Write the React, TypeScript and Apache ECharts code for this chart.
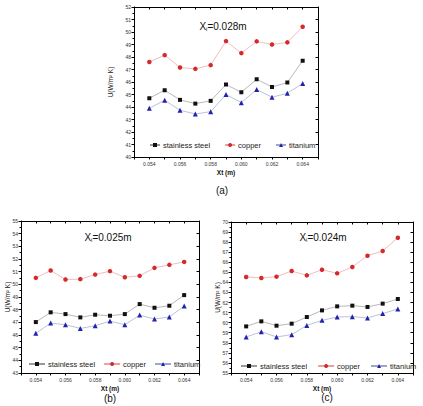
import React, { useEffect, useRef } from "react";
import * as echarts from "echarts";

// Tube position Xt (m) shared by all three panels
const xt = [0.054, 0.055, 0.056, 0.057, 0.058, 0.059, 0.06, 0.061, 0.062, 0.063, 0.064];

// Panel (a): Xi = 0.028 m
const steelA = [44.7, 45.34, 44.57, 44.27, 44.49, 45.8, 45.18, 46.22, 45.6, 45.96, 47.7];
const copperA = [47.6, 48.15, 47.16, 47.05, 47.35, 49.27, 48.31, 49.25, 49.0, 49.17, 50.42];
const titaniumA = [43.9, 44.54, 43.74, 43.44, 43.63, 45.0, 44.35, 45.4, 44.78, 45.1, 45.88];

// Panel (b): Xi = 0.025 m
const steelB = [47.02, 47.79, 47.65, 47.39, 47.6, 47.52, 47.65, 48.44, 48.15, 48.31, 49.15];
const copperB = [50.51, 51.09, 50.38, 50.41, 50.77, 51.04, 50.56, 50.67, 51.3, 51.54, 51.77];
const titaniumB = [46.13, 46.94, 46.81, 46.52, 46.73, 47.1, 46.81, 47.57, 47.26, 47.42, 48.28];

// Panel (c): Xi = 0.024 m
const steelC = [59.63, 60.13, 59.7, 59.9, 60.56, 61.22, 61.62, 61.69, 61.56, 61.89, 62.35];
const copperC = [64.54, 64.44, 64.57, 65.13, 64.7, 65.26, 64.9, 65.53, 66.65, 67.12, 68.44];
const titaniumC = [58.58, 59.1, 58.58, 58.81, 59.73, 60.23, 60.56, 60.6, 60.47, 60.9, 61.36];

const materials = ["stainless steel", "copper", "titanium"];
const panelLabels = ["(a)", "(b)", "(c)"];
const xiValues = ["0.028m", "0.025m", "0.024m"];
const yRanges = [
  [40, 52],
  [43, 55],
  [55, 70],
];

const seriesStyle = [
  { symbol: "rect", size: 4, color: "#111111", line: "#9a9a9a" },
  { symbol: "circle", size: 4.5, color: "#d42a2a", line: "#eaa0a0" },
  { symbol: "triangle", size: 5, color: "#2222b0", line: "#9da6c8" },
];

const panels = [
  { left: 134, top: 7, width: 184, height: 150, steel: steelA, copper: copperA, titanium: titaniumA },
  { left: 21, top: 221, width: 178, height: 152, steel: steelB, copper: copperB, titanium: titaniumB },
  { left: 231, top: 222, width: 182, height: 151, steel: steelC, copper: copperC, titanium: titaniumC },
];

const legendPos = [
  { left: 149, top: 141, gap: 14, w: 10 },
  { left: 28, top: 360, gap: 8, w: 16 },
  { left: 240, top: 362, gap: 10, w: 16 },
];
const titlePos = [
  { x: 223, y: 20 },
  { x: 108, y: 231 },
  { x: 323, y: 231 },
];
const panelLabelPos = [
  { x: 222, y: 190 },
  { x: 110, y: 398 },
  { x: 327, y: 397 },
];
const yNamePos = [110, 7, 217];

const font = "Liberation Sans, Arial, sans-serif";
const tickFont = { fontSize: 5, color: "#333", fontFamily: font };

export default function App() {
  const ref = useRef<HTMLDivElement>(null);

  useEffect(() => {
    if (!ref.current) return;
    const chart = echarts.init(ref.current, null, { renderer: "svg" });

    const grid: any[] = [];
    const xAxis: any[] = [];
    const yAxis: any[] = [];
    const series: any[] = [];
    const legend: any[] = [];
    const graphic: any[] = [];

    panels.forEach((p, i) => {
      grid.push({ left: p.left, top: p.top, width: p.width, height: p.height, containLabel: false });
      const xBase = {
        type: "value",
        gridIndex: i,
        min: 0.053,
        max: 0.065,
        interval: 0.001,
        splitLine: { show: false },
        axisLine: { show: true, onZero: false, lineStyle: { color: "#000", width: 1 } },
      };
      // bottom axis, labelled at every other tick
      xAxis.push({
        ...xBase,
        position: "bottom",
        axisTick: { show: true, inside: false, length: 2.5, lineStyle: { color: "#000" } },
        axisLabel: {
          ...tickFont,
          margin: 4,
          formatter: (v: number) => {
            const k = Math.round(v * 1000);
            return k % 2 === 0 && k >= 54 && k <= 64 ? (k / 1000).toFixed(3) : "";
          },
        },
        name: "Xt (m)",
        nameLocation: "middle",
        nameGap: 12,
        nameTextStyle: { fontSize: 6.5, fontWeight: "bold", color: "#111", fontFamily: font },
      });
      // top frame axis
      xAxis.push({
        ...xBase,
        position: "top",
        axisTick: { show: true, inside: true, length: 2.5, lineStyle: { color: "#000" } },
        axisLabel: { show: false },
      });
      const yBase = {
        type: "value",
        gridIndex: i,
        min: yRanges[i][0],
        max: yRanges[i][1],
        interval: 1,
        splitLine: { show: false },
        axisLine: { show: true, onZero: false, lineStyle: { color: "#000", width: 1 } },
      };
      yAxis.push({
        ...yBase,
        position: "left",
        axisTick: { show: true, inside: false, length: 2.5, lineStyle: { color: "#000" } },
        minorTick: { show: true, splitNumber: 2, length: 1.5, lineStyle: { color: "#000" } },
        axisLabel: { ...tickFont, margin: 3 },
      });
      // right frame axis
      yAxis.push({
        ...yBase,
        position: "right",
        axisTick: { show: true, inside: true, length: 2.5, lineStyle: { color: "#000" } },
        axisLabel: { show: false },
      });

      const values = [p.steel, p.copper, p.titanium];
      values.forEach((vals, s) => {
        const st = seriesStyle[s];
        series.push({
          type: "line",
          name: materials[s],
          xAxisIndex: i * 2,
          yAxisIndex: i * 2,
          data: xt.map((x, k) => [x, vals[k]]),
          symbol: st.symbol,
          symbolSize: st.size,
          showAllSymbol: true,
          itemStyle: { color: st.color },
          lineStyle: { color: st.line, width: 0.7 },
          emphasis: { disabled: true },
        });
      });

      legend.push({
        data: materials,
        left: legendPos[i].left,
        top: legendPos[i].top,
        orient: "horizontal",
        itemWidth: legendPos[i].w,
        itemHeight: 5,
        itemGap: legendPos[i].gap,
        padding: 0,
        selectedMode: false,
        textStyle: { fontSize: 7.5, color: "#222", fontFamily: font, padding: [0, 0, 0, -2] },
      });

      // panel title X_i = ..., with a subscript i
      graphic.push({
        type: "text",
        x: titlePos[i].x,
        y: titlePos[i].y,
        style: {
          text: `{a|X}{s|i}{a|=${xiValues[i]}}`,
          align: "center",
          verticalAlign: "top",
          rich: {
            a: { fontSize: 10, fill: "#111", fontWeight: "normal", fontFamily: font, lineHeight: 12 },
            s: { fontSize: 6, fill: "#111", fontWeight: "normal", fontFamily: font, padding: [6, 0, 0, 0], lineHeight: 12 },
          },
        },
      });

      graphic.push({
        type: "text",
        x: panelLabelPos[i].x,
        y: panelLabelPos[i].y,
        style: {
          text: panelLabels[i],
          fontSize: 10,
          fill: "#111",
          align: "center",
          verticalAlign: "middle",
          fontFamily: font,
        },
      });
      graphic.push({
        type: "text",
        x: yNamePos[i],
        y: p.top + p.height / 2,
        rotation: Math.PI / 2,
        style: {
          text: "U(W/m² K)",
          fontSize: 6.5,
          fill: "#111",
          align: "center",
          verticalAlign: "middle",
          fontFamily: font,
        },
      });
    });

    chart.setOption({
      animation: false,
      backgroundColor: "#ffffff",
      grid,
      xAxis,
      yAxis,
      series,
      legend,
      graphic,
    });

    return () => chart.dispose();
  }, []);

  return (
    <div
      ref={ref}
      style={{ position: "fixed", left: 0, top: 0, width: 423, height: 406 }}
    />
  );
}
